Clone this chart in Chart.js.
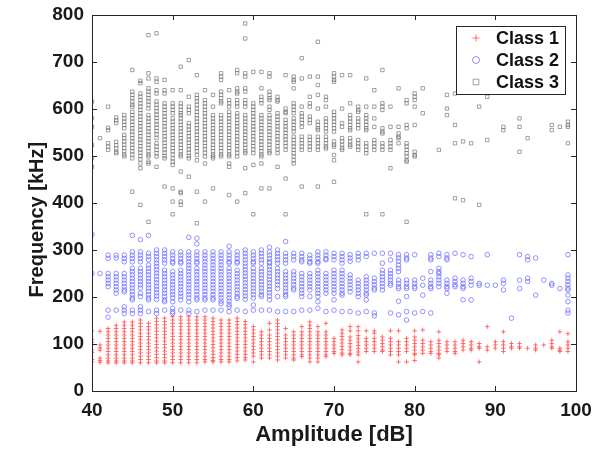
<!DOCTYPE html>
<html>
<head>
<meta charset="utf-8">
<title>Frequency vs Amplitude</title>
<script src="https://cdn.jsdelivr.net/npm/chart.js@4.4.0/dist/chart.umd.min.js"></script>
<style>
    body { margin: 0; background: #fff; }
    #wrap { width: 601px; height: 454px; }
</style>
</head>
<body>
<div id="wrap"><canvas id="myChart" width="601" height="454"></canvas></div>
<script>
// amplitude columns [dB], one entry per row of the frequency tables below
var amplitudes = [];
for (var a = 40; a <= 99; a++) amplitudes.push(a);

var xTicks = [40, 50, 60, 70, 80, 90, 100];
var yTicks = [0, 100, 200, 300, 400, 500, 600, 700, 800];
var seriesNames = ['Class 1', 'Class 2', 'Class 3'];

// Class 1 frequencies [kHz] read per amplitude column
var class1Freq = [
    [128, 110, 104, 98, 87, 82, 67, 62],
    [127, 98, 92, 87, 70, 65, 61],
    [133, 126, 119, 112, 105, 98, 91, 84, 77, 70, 64, 60],
    [140, 133, 126, 119, 112, 105, 98, 91, 84, 77, 70, 64, 60],
    [147, 140, 133, 126, 119, 112, 105, 98, 91, 84, 77, 70, 64, 60],
    [147, 140, 133, 126, 119, 112, 105, 98, 91, 84, 77, 70, 64, 60],
    [151, 144, 137, 130, 123, 116, 109, 102, 95, 88, 81, 74, 67, 60],
    [144, 137, 130, 123, 116, 109, 102, 95, 88, 81, 74, 67, 60],
    [155, 148, 141, 134, 127, 120, 113, 106, 99, 92, 85, 78, 71, 64, 60],
    [155, 148, 141, 134, 127, 120, 113, 106, 99, 92, 85, 78, 71, 64, 60],
    [158, 151, 144, 137, 130, 123, 116, 109, 102, 95, 88, 81, 74, 67, 60],
    [158, 151, 144, 137, 130, 123, 116, 109, 102, 95, 88, 81, 74, 67, 60],
    [158, 151, 144, 137, 130, 123, 116, 109, 102, 95, 88, 81, 74, 67, 60],
    [158, 151, 144, 137, 130, 123, 116, 109, 102, 95, 88, 81, 74, 67, 60],
    [158, 151, 144, 137, 130, 123, 116, 109, 102, 95, 88, 81, 74, 67, 62],
    [155, 148, 141, 134, 127, 120, 113, 106, 99, 92, 85, 78, 71, 65, 62],
    [151, 144, 137, 130, 123, 116, 109, 102, 95, 88, 81, 74, 67, 62],
    [151, 144, 137, 130, 123, 116, 109, 102, 95, 88, 81, 74, 67, 62],
    [155, 148, 141, 134, 127, 120, 113, 106, 99, 92, 85, 78, 71, 64],
    [148, 141, 134, 127, 120, 113, 106, 99, 92, 85, 78, 71, 66],
    [137, 130, 123, 116, 109, 102, 95, 88, 81, 74, 62],
    [126, 119, 112, 105, 98, 91, 84, 77, 70],
    [144, 130, 119, 112, 105, 98, 91, 84, 77, 70],
    [151, 144, 137, 130, 123, 116, 109, 102, 95, 88, 81, 74, 66],
    [133, 119, 112, 105, 98, 91, 84, 77, 70],
    [126, 119, 112, 105, 98, 91, 84, 77, 70, 66],
    [137, 126, 119, 112, 105, 98, 91, 84, 77, 73],
    [147, 140, 133, 126, 119, 112, 105, 98, 91, 84, 77, 70, 62],
    [137, 126, 119, 112, 105, 98, 91, 84, 77, 70, 62],
    [144, 126, 119, 112, 105, 98, 91, 84, 77, 73],
    [112, 105, 98, 91, 84, 80],
    [130, 123, 116, 109, 102, 95, 88, 81, 77],
    [137, 128, 115, 108, 101, 94, 87, 80, 77],
    [137, 128, 118, 111, 104, 97, 90, 83, 77, 62],
    [128, 112, 105, 98, 91, 84],
    [128, 123, 112, 105, 98, 91, 84],
    [115, 108, 101, 94, 87, 84],
    [128, 112, 105, 98, 91, 84, 77],
    [128, 105, 98, 91, 84, 77, 62],
    [112, 105, 98, 91, 84, 62],
    [128, 115, 108, 101, 94, 87, 80, 77, 65],
    [130, 108, 101, 94, 87, 80],
    [105, 98, 91, 84, 80],
    [126, 108, 101, 94, 87, 80, 77, 70],
    [105, 98, 91, 84],
    [105, 98, 91, 84, 80],
    [108, 101, 94, 87],
    [105, 98, 91, 87],
    [101, 94, 91, 62],
    [137, 94, 87],
    [105, 98, 91],
    [126, 105, 98, 91, 84],
    [101, 94, 91],
    [101, 94, 91],
    [91],
    [98, 91, 87],
    [98],
    [108, 101, 94, 91],
    [126, 91, 87, 84],
    [122, 105, 98, 91, 84]
];

// Class 2 frequencies [kHz]
var class2Freq = [
    [333, 250],
    [250],
    [289, 282, 250, 243, 236, 229, 222, 172, 157],
    [289, 283, 250, 243, 236, 229, 222, 215, 208, 172],
    [289, 282, 275, 250, 243, 236, 229, 222, 215, 211, 179, 172, 165],
    [331, 296, 289, 282, 275, 261, 254, 247, 240, 233, 226, 219, 212, 205, 198, 194, 172, 165],
    [322, 296, 289, 282, 275, 261, 254, 247, 240, 233, 226, 219, 208, 201, 179, 172, 165],
    [331, 293, 286, 279, 268, 261, 254, 247, 240, 233, 226, 219, 212, 205, 198, 194, 169],
    [300, 293, 286, 279, 272, 265, 258, 251, 244, 237, 230, 223, 216, 209, 202, 195, 172, 165],
    [300, 293, 286, 279, 272, 257, 250, 243, 236, 229, 222, 215, 208, 201, 194, 190, 172],
    [296, 289, 282, 275, 272, 254, 247, 240, 233, 226, 219, 212, 205, 198, 190, 176, 169, 165],
    [296, 289, 282, 275, 272, 257, 250, 243, 236, 229, 222, 215, 208, 201, 194, 172],
    [327, 296, 289, 282, 275, 268, 261, 254, 247, 240, 233, 226, 219, 212, 205, 198, 190, 172, 165],
    [325, 313, 296, 289, 282, 275, 272, 261, 254, 247, 240, 233, 226, 219, 212, 205, 198, 194, 169],
    [296, 289, 282, 275, 268, 261, 254, 247, 240, 233, 226, 219, 212, 205, 198, 194, 172],
    [296, 289, 282, 275, 268, 261, 254, 247, 240, 233, 226, 219, 212, 205, 198, 194, 172],
    [296, 289, 282, 275, 268, 261, 254, 247, 240, 233, 226, 219, 212, 205, 198, 191, 186, 172],
    [308, 296, 289, 282, 275, 272, 261, 254, 247, 240, 233, 226, 219, 212, 205, 198, 191, 184, 179, 169],
    [296, 289, 282, 275, 272, 257, 250, 243, 236, 229, 222, 215, 208, 201, 197, 172],
    [300, 293, 286, 279, 272, 265, 258, 251, 244, 237, 230, 223, 216, 209, 202, 195, 169],
    [296, 289, 282, 275, 272, 261, 254, 247, 240, 233, 226, 219, 212, 205, 198, 183, 172],
    [300, 293, 286, 279, 272, 261, 254, 247, 240, 233, 226, 219, 212, 205, 201, 172],
    [306, 296, 289, 282, 275, 272, 265, 258, 251, 244, 237, 230, 223, 216, 209, 202, 194, 172],
    [300, 293, 286, 279, 272, 261, 254, 247, 240, 233, 226, 218, 201, 169],
    [318, 293, 286, 279, 272, 254, 247, 240, 233, 226, 219, 212, 205, 201, 169],
    [293, 286, 279, 254, 247, 240, 233, 226, 219, 215, 169],
    [293, 286, 279, 275, 250, 243, 236, 229, 222, 215, 208, 201, 172],
    [289, 282, 275, 272, 250, 243, 236, 229, 222, 215, 201, 172],
    [296, 289, 282, 275, 272, 257, 250, 243, 236, 229, 222, 215, 208, 201, 190, 176],
    [296, 289, 282, 279, 250, 243, 236, 229, 222, 215, 208, 169],
    [293, 286, 279, 257, 250, 243, 236, 229, 222, 215, 208, 194, 172],
    [293, 286, 279, 272, 257, 250, 243, 236, 229, 222, 215, 208, 204, 169],
    [290, 283, 276, 247, 240, 233, 226, 219, 211, 169],
    [293, 286, 279, 236, 229, 222, 215, 208, 201, 166],
    [293, 286, 243, 236, 229, 222, 215, 208, 204, 194, 169],
    [293, 240, 233, 226, 219, 215, 166, 160],
    [293, 272, 257, 250, 243, 236, 229, 222, 215],
    [293, 279, 257, 250, 243, 236, 229, 225, 166],
    [290, 283, 276, 268, 261, 254, 236, 229, 222, 218, 191, 162],
    [290, 283, 279, 236, 229, 222, 218, 201, 169, 151],
    [290, 236, 229, 222, 218, 166],
    [240, 225, 204, 169],
    [290, 283, 279, 254, 236, 229, 222, 218, 166],
    [293, 286, 261, 254, 250, 243, 236, 229, 222],
    [290, 283, 279, 236, 229, 222, 218, 208],
    [293, 240, 233, 226, 222],
    [290, 236, 229, 222, 218, 194],
    [286, 240, 233, 225, 194],
    [229, 225],
    [290, 225],
    [225],
    [236, 229, 215],
    [155],
    [290, 236, 218],
    [286, 279, 240, 233],
    [283, 204],
    [236],
    [229, 225],
    [218],
    [290, 247, 240, 233, 226, 219, 215, 204, 190, 172, 166]
];

// Class 3 frequencies [kHz]
var class3Freq = [
    [616, 581, 562, 523, 496, 477],
    [538],
    [605, 560, 555, 527, 520, 513],
    [582, 576, 570, 530, 523, 516, 509, 506],
    [587, 580, 573, 566, 559, 545, 538, 531, 524, 517, 510, 503, 499],
    [683, 637, 630, 623, 616, 609, 605, 594, 587, 580, 573, 566, 559, 552, 545, 538, 531, 524, 517, 510, 503, 495, 424],
    [660, 655, 633, 626, 619, 612, 605, 598, 591, 584, 577, 570, 563, 556, 549, 542, 535, 528, 521, 514, 507, 500, 493, 484, 474, 396],
    [757, 676, 665, 644, 637, 630, 623, 616, 609, 601, 587, 580, 573, 566, 559, 552, 545, 538, 531, 524, 517, 510, 503, 499, 488, 484, 360],
    [761, 665, 658, 640, 633, 616, 609, 602, 595, 588, 581, 574, 567, 560, 553, 546, 538, 527, 520, 513, 506, 499, 477],
    [662, 640, 633, 612, 605, 598, 591, 584, 577, 570, 563, 556, 549, 542, 535, 528, 521, 514, 507, 500, 495, 435],
    [640, 612, 605, 598, 591, 580, 573, 566, 559, 552, 545, 538, 531, 524, 517, 510, 503, 495, 488, 481, 431, 403, 376],
    [690, 640, 612, 605, 598, 591, 587, 580, 573, 566, 559, 552, 545, 538, 531, 524, 517, 510, 503, 499, 467, 424, 421, 403, 396],
    [704, 626, 605, 598, 591, 570, 563, 556, 549, 542, 535, 528, 521, 514, 507, 500, 495, 456],
    [672, 630, 623, 616, 609, 601, 594, 587, 580, 573, 566, 559, 552, 545, 538, 531, 524, 517, 510, 502, 491, 424, 357],
    [640, 619, 612, 605, 598, 591, 584, 577, 570, 563, 556, 549, 542, 535, 528, 521, 514, 507, 499, 484, 403],
    [630, 605, 587, 580, 573, 566, 559, 552, 545, 538, 531, 524, 517, 510, 503, 499, 495, 431],
    [676, 669, 662, 637, 630, 623, 616, 612, 587, 580, 573, 566, 559, 552, 545, 538, 531, 524, 517, 510, 503, 499],
    [640, 619, 612, 605, 594, 587, 580, 573, 566, 559, 552, 545, 538, 531, 524, 517, 510, 503, 499, 484, 477, 417],
    [683, 676, 644, 637, 633, 619, 612, 605, 591, 584, 577, 570, 563, 556, 549, 542, 535, 528, 521, 514, 507, 499, 403],
    [782, 750, 676, 669, 644, 637, 619, 612, 605, 587, 580, 573, 566, 559, 552, 545, 538, 531, 524, 517, 510, 506, 474, 421],
    [679, 612, 605, 598, 591, 584, 577, 570, 563, 556, 549, 542, 535, 528, 521, 514, 506, 481, 376],
    [679, 644, 626, 619, 612, 587, 580, 573, 566, 559, 552, 545, 538, 531, 524, 517, 510, 503, 499, 484, 431],
    [676, 669, 637, 630, 623, 619, 605, 598, 587, 580, 573, 566, 559, 552, 545, 538, 531, 524, 517, 510, 506, 431],
    [626, 619, 616, 591, 584, 577, 570, 563, 556, 549, 542, 535, 528, 521, 514, 506, 477],
    [672, 601, 594, 591, 577, 570, 563, 556, 549, 542, 535, 528, 521, 513, 452, 376],
    [669, 662, 658, 644, 612, 605, 598, 591, 580, 573, 566, 559, 552, 541, 534, 527, 520, 513, 506, 499, 491, 484],
    [708, 665, 605, 591, 584, 577, 570, 562, 541, 534, 527, 520, 513, 435],
    [669, 626, 612, 605, 584, 577, 570, 541, 534, 527, 520, 513],
    [743, 669, 651, 630, 601, 573, 566, 559, 555, 541, 534, 527, 520, 513, 435],
    [626, 619, 605, 580, 573, 566, 559, 552, 541, 534, 527, 520, 516],
    [676, 669, 662, 658, 594, 587, 580, 573, 566, 559, 552, 531, 524, 520, 502, 491, 445],
    [672, 601, 570, 562, 538, 531, 524, 517, 513],
    [672, 612, 587, 580, 573, 566, 559, 555, 538, 531, 524, 520],
    [605, 598, 594, 580, 573, 566, 559, 534, 527, 520, 513],
    [665, 605, 587, 580, 573, 566, 559, 555, 527, 520, 513, 506, 376],
    [640, 605, 580, 562, 534, 527, 520, 513],
    [683, 612, 605, 598, 559, 552, 548, 527, 520, 513, 376],
    [605, 562, 534, 527, 520, 513, 474],
    [644, 562, 548, 541, 538, 527],
    [619, 612, 566, 559, 527, 520, 513, 506, 499, 491, 488, 360],
    [633, 626, 619, 605, 566, 509, 502, 499],
    [644, 591],
    [],
    [513],
    [630, 601, 587],
    [633, 566, 527, 410],
    [531, 406],
    [527],
    [605, 396],
    [626, 534],
    [],
    [562, 555],
    [],
    [580, 562, 509],
    [538],
    [],
    [],
    [566, 555],
    [562],
    [573, 566, 562, 527]
];

function toPoints(freqTable) {
    var pts = [];
    freqTable.forEach(function (freqs, i) {
        freqs.forEach(function (f) {
            pts.push({ x: amplitudes[i], y: f });
        });
    });
    return pts;
}

var FONT = "'Liberation Sans', Arial, sans-serif";
var AXIS_COLOR = '#262626';

// box around the plot with MATLAB style inward ticks
var framePlugin = {
    id: 'frame',
    afterDatasetsDraw: function (chart) {
        var ctx = chart.ctx;
        var area = chart.chartArea;
        var xs = chart.scales.x;
        var ys = chart.scales.y;
        ctx.save();
        ctx.strokeStyle = AXIS_COLOR;
        ctx.lineWidth = 1;
        ctx.beginPath();
        xs.ticks.forEach(function (t) {
            var px = Math.round(xs.getPixelForValue(t.value)) + 0.5;
            ctx.moveTo(px, area.bottom);
            ctx.lineTo(px, area.bottom - 5);
            ctx.moveTo(px, area.top);
            ctx.lineTo(px, area.top + 5);
        });
        ys.ticks.forEach(function (t) {
            var py = Math.round(ys.getPixelForValue(t.value)) + 0.5;
            ctx.moveTo(area.left, py);
            ctx.lineTo(area.left + 5, py);
            ctx.moveTo(area.right, py);
            ctx.lineTo(area.right - 5, py);
        });
        ctx.stroke();
        ctx.strokeRect(Math.round(area.left) + 0.5, Math.round(area.top) + 0.5,
            Math.round(area.right - area.left), Math.round(area.bottom - area.top));
        ctx.restore();
    }
};

// legend box in the upper right corner of the plot
var legendBoxPlugin = {
    id: 'legendBox',
    afterDraw: function (chart) {
        var ctx = chart.ctx;
        var area = chart.chartArea;
        var right = area.right - 11;
        var top = area.top + 11;
        var w = 109, h = 68;
        ctx.save();
        ctx.fillStyle = '#fff';
        ctx.fillRect(right - w, top, w, h);
        ctx.strokeStyle = AXIS_COLOR;
        ctx.lineWidth = 1;
        ctx.strokeRect(Math.round(right - w) + 0.5, Math.round(top) + 0.5, w, h);
        chart.data.datasets.forEach(function (ds, i) {
            var y = top + 12 + i * 22;
            ctx.strokeStyle = ds.borderColor;
            ctx.fillStyle = 'rgba(0,0,0,0)';
            ctx.lineWidth = 1;
            Chart.helpers.drawPoint(ctx, {
                pointStyle: ds.pointStyle,
                radius: ds.legendRadius,
                borderWidth: 1,
                rotation: 0
            }, right - w + 20, y);
            ctx.fillStyle = '#111';
            ctx.font = 'bold 18px ' + FONT;
            ctx.textBaseline = 'middle';
            ctx.textAlign = 'left';
            ctx.fillText(ds.label, right - w + 40, y + 1);
        });
        ctx.restore();
    }
};

var ctx = document.getElementById('myChart').getContext('2d');

var chart = new Chart(ctx, {
    type: 'scatter',
    data: {
        datasets: [
            {
                label: seriesNames[0],
                data: toPoints(class1Freq),
                pointStyle: 'cross',
                pointRadius: 2.3,
                borderColor: 'rgba(255, 80, 80, 0.8)',
                backgroundColor: 'rgba(255, 80, 80, 0.8)',
                borderWidth: 1,
                legendRadius: 3.5
            },
            {
                label: seriesNames[1],
                data: toPoints(class2Freq),
                pointStyle: 'circle',
                pointRadius: 2.3,
                borderColor: 'rgba(100, 100, 255, 0.7)',
                backgroundColor: 'rgba(0, 0, 0, 0)',
                borderWidth: 1,
                legendRadius: 3.5
            },
            {
                label: seriesNames[2],
                data: toPoints(class3Freq),
                pointStyle: 'rect',
                pointRadius: 2.4,
                borderColor: 'rgba(110, 110, 110, 0.65)',
                backgroundColor: 'rgba(0, 0, 0, 0)',
                borderWidth: 1,
                legendRadius: 4
            }
        ]
    },
    options: {
        responsive: false,
        animation: false,
        layout: {
            padding: { left: 0, top: 15, right: 25, bottom: 0 }
        },
        plugins: {
            legend: { display: false },
            tooltip: { enabled: false }
        },
        scales: {
            x: {
                type: 'linear',
                min: xTicks[0],
                max: xTicks[xTicks.length - 1],
                afterBuildTicks: function (scale) {
                    scale.ticks = xTicks.map(function (v) { return { value: v }; });
                },
                afterFit: function (scale) {
                    scale.height = 63;
                    scale.paddingLeft = 0;
                    scale.paddingRight = 0;
                },
                grid: { display: false, drawTicks: false },
                border: { display: false },
                ticks: {
                    padding: 8,
                    maxRotation: 0,
                    color: '#1a1a1a',
                    font: { family: FONT, size: 19, weight: 'bold' }
                },
                title: {
                    display: true,
                    text: 'Amplitude [dB]',
                    color: '#1a1a1a',
                    padding: { top: 0, bottom: 6 },
                    font: { family: FONT, size: 22, weight: 'bold' }
                }
            },
            y: {
                type: 'linear',
                min: yTicks[0],
                max: yTicks[yTicks.length - 1],
                afterBuildTicks: function (scale) {
                    scale.ticks = yTicks.map(function (v) { return { value: v }; });
                },
                afterFit: function (scale) {
                    scale.width = 92;
                    scale.paddingTop = 0;
                    scale.paddingBottom = 0;
                },
                grid: { display: false, drawTicks: false },
                border: { display: false },
                ticks: {
                    padding: 8,
                    color: '#1a1a1a',
                    font: { family: FONT, size: 19, weight: 'bold' }
                },
                title: {
                    display: true,
                    text: 'Frequency [kHz]      ',
                    color: '#1a1a1a',
                    padding: { top: 25, bottom: 0 },
                    font: { family: FONT, size: 20, weight: 'bold' }
                }
            }
        }
    },
    plugins: [framePlugin, legendBoxPlugin]
});
</script>
</body>
</html>
